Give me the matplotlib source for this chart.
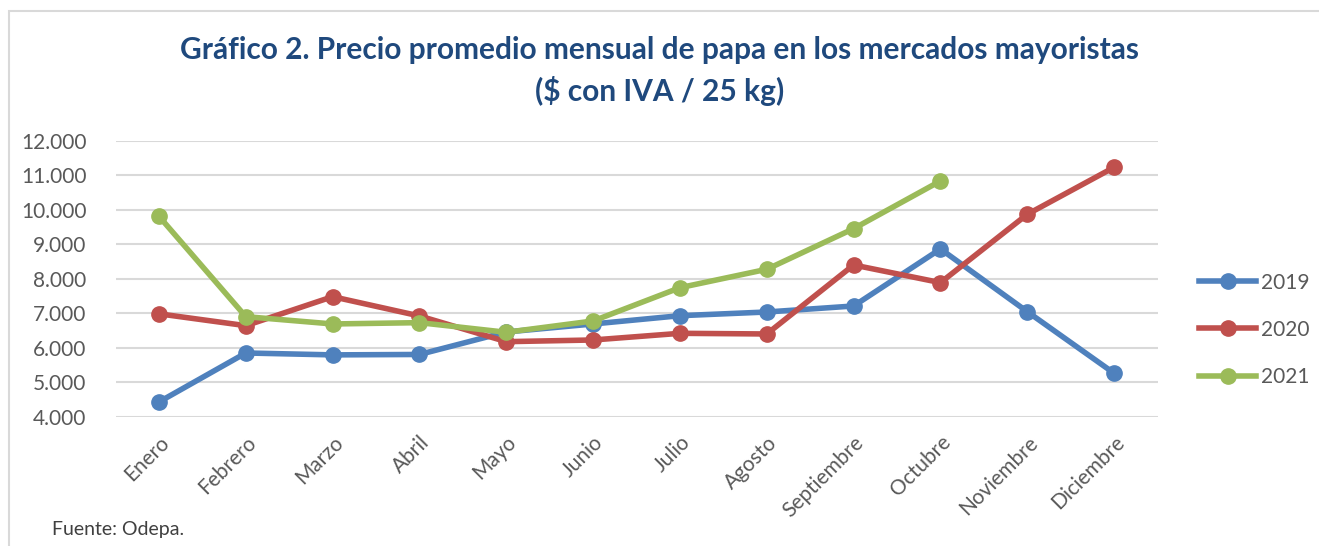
import matplotlib.pyplot as plt
from matplotlib.ticker import FuncFormatter, MultipleLocator
from matplotlib.patches import Rectangle

# data
meses = ['Enero', 'Febrero', 'Marzo', 'Abril', 'Mayo', 'Junio', 'Julio',
         'Agosto', 'Septiembre', 'Octubre', 'Noviembre', 'Diciembre']
p2019 = [4435, 5855, 5800, 5812, 6464, 6696, 6936, 7043, 7217, 8870, 7052, 5267]
p2020 = [6990, 6647, 7487, 6928, 6183, 6232, 6425, 6406, 8406, 7894, 9875, 11237]
p2021 = [9817, 6908, 6696, 6734, 6455, 6783, 7748, 8281, 9459, 10841]

plt.rcParams['font.family'] = ['Lato', 'DejaVu Sans']

fig = plt.figure(figsize=(13.19, 5.46), dpi=100)
ax = fig.add_axes([0.0876, 0.2363, 0.79, 0.5055])

x = list(range(len(meses)))
ax.plot(x, p2019, '-o', color='#4F81BD', lw=4, ms=11, label='2019', clip_on=False, zorder=3)
ax.plot(x, p2020, '-o', color='#C0504D', lw=4, ms=11, label='2020', clip_on=False, zorder=3)
ax.plot(x[:len(p2021)], p2021, '-o', color='#9BBB59', lw=4, ms=11, label='2021', clip_on=False, zorder=3)

ax.set_xlim(-0.5, 11.5)
ax.set_ylim(4000, 12000)
ax.yaxis.set_major_locator(MultipleLocator(1000))
ax.yaxis.set_major_formatter(FuncFormatter(lambda v, p: f'{int(v):,}'.replace(',', '.')))
ax.grid(axis='y', color='#D9D9D9', lw=1.5)
ax.set_axisbelow(True)
for s in ax.spines.values():
    s.set_visible(False)
ax.tick_params(length=0, labelsize=15, labelcolor='#595959')
ax.tick_params(axis='y', pad=21)
ax.set_xticks(x)
ax.set_xticklabels(meses, rotation=45, ha='right', rotation_mode='anchor')
ax.tick_params(axis='x', pad=11)

fig.legend(*ax.get_legend_handles_labels(), loc='center left',
           bbox_to_anchor=(0.903, 0.396), frameon=False,
           fontsize=15, labelcolor='#595959', handlelength=2.7,
           handletextpad=0.25, labelspacing=1.3, borderaxespad=0)

fig.text(0.5, 0.909, 'Gráfico 2. Precio promedio mensual de papa en los mercados mayoristas',
         ha='center', va='center', fontsize=21.5, fontweight='bold', color='#1F497D')
fig.text(0.5, 0.833, '($ con IVA / 25 kg)',
         ha='center', va='center', fontsize=21.5, fontweight='bold', color='#1F497D')
fig.text(0.0395, 0.03, 'Fuente: Odepa.', ha='left', va='center', fontsize=14, color='#404040')

fig.patches.append(Rectangle((0.0065, -0.01), 1.1, 0.99, transform=fig.transFigure,
                             fill=False, edgecolor='#D9D9D9', lw=1.5))

fig.savefig('out.png', dpi=100)
